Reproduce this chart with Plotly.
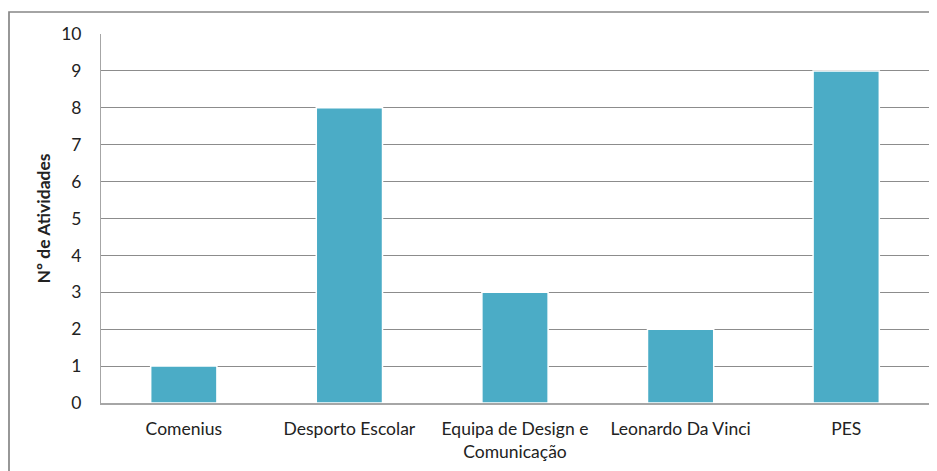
import plotly.graph_objects as go

categories = ["Comenius", "Desporto Escolar", "Equipa de Design e<br>Comunicação", "Leonardo Da Vinci", "PES"]
values = [1, 8, 3, 2, 9]
y_ticks = list(range(0, 11))

# page body has an 8px default margin; size the figure to fit the window
OFF = 8
W, H = 937 - OFF, 471 - OFF
L, T = 101 - OFF, 34 - OFF
R = W - (929 - OFF)
B = H - (403 - OFF)
pw, ph = W - L - R, H - T - B

fig = go.Figure(go.Bar(
    x=categories, y=values,
    marker=dict(color="#4BACC6", line=dict(color="#FFFFFF", width=1.5)),
))

def px_x(v):
    return (v - OFF - L) / pw

def px_y(v):
    return (H - B - (v - OFF)) / ph

fig.add_shape(type="rect", xref="paper", yref="paper",
              x0=px_x(9), x1=px_x(950), y0=px_y(490), y1=px_y(12),
              line=dict(color="#868686", width=1.7), fillcolor="rgba(0,0,0,0)", layer="below")

font = dict(family="Lato, Carlito, Calibri, sans-serif", size=18, color="#222222")
fig.update_layout(
    width=W, height=H,
    margin=dict(l=L, r=R, t=T, b=B, autoexpand=False),
    paper_bgcolor="white", plot_bgcolor="white",
    showlegend=False, bargap=0.6,
    font=font,
    xaxis=dict(showline=True, linecolor="#A6A6A6", linewidth=1.5, showgrid=False,
               ticks="outside", ticklen=9, tickcolor="rgba(0,0,0,0)",
               tickfont=dict(size=17.5)),
    yaxis=dict(range=[0, 10], tickvals=y_ticks, showgrid=True, gridcolor="#8C8C8C", gridwidth=1,
               showline=True, linecolor="#A6A6A6", linewidth=1, zeroline=False,
               ticks="outside", ticklen=15, tickcolor="rgba(0,0,0,0)",
               tickfont=dict(size=17.5),
               title=dict(text="<b>Nº de Atividades</b>", font=dict(size=17.5), standoff=6)),
)

fig.write_html("out.html")
